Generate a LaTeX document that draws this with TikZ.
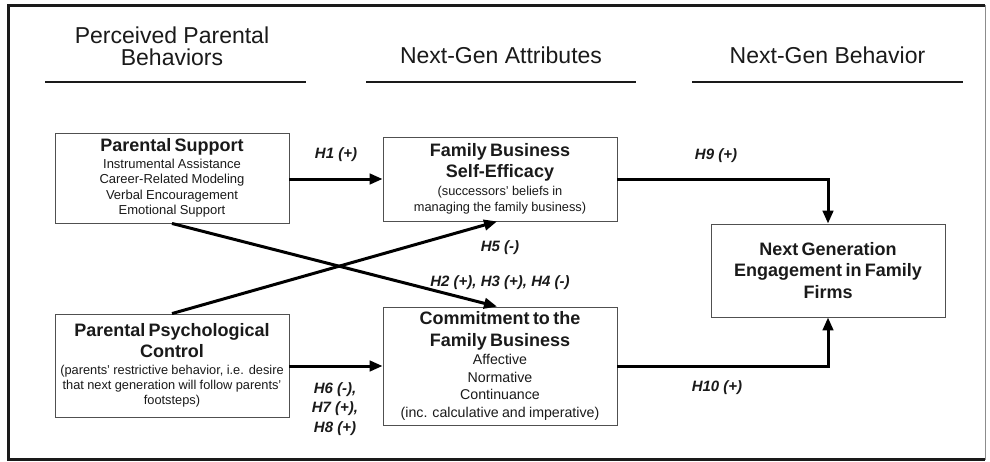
\documentclass[tikz,border=0pt]{standalone}
\usepackage{fontspec}
\setmainfont{Liberation Sans}
\usetikzlibrary{arrows.meta,calc}
\definecolor{ink}{HTML}{1A1A1A}
\definecolor{edgegray}{HTML}{505050}
\newcommand{\ttlfont}{\fontsize{18}{21.5}\selectfont\bfseries}
\begin{document}
\begin{tikzpicture}[x=1pt,y=-1pt,
  box/.style={draw=edgegray, line width=0.9pt, minimum width=234pt, text width=230pt,
    align=center, inner sep=0pt, text=ink},
  arr/.style={line width=3pt, -{Triangle[length=13pt,width=10.5pt]}},
  elbowarr/.style={line width=3pt, -{Triangle[length=13pt,width=10.5pt]}, line join=miter},
  hyp/.style={font=\fontsize{15}{19.5}\selectfont\bfseries\itshape, text=ink, align=center, inner sep=0pt},
  hdr/.style={font=\fontsize{23}{22}\selectfont, text=ink, align=center, inner sep=0pt},
  rulel/.style={line width=2.8pt, ink}]
\useasboundingbox (0,0) rectangle (990,461);
\fill[white] (0,0) rectangle (990,461);
% outer frame
\draw[line width=3pt, ink] (985,5) -- (8,5) -- (8,459.5) -- (985,459.5);
\draw[line width=1pt, black!45] (985,5) -- (985,459.5);
% headers
\node[hdr] (hA) at (172,46.5) {Perceived Parental\\Behaviors};
\node[hdr, anchor=base] (hB) at (501,63) {Next-Gen Attributes};
\node[hdr, anchor=base] (hC) at (827.5,63) {Next-Gen Behavior};
\draw[rulel] (45,82) -- (306,82);
\draw[rulel] (366,82) -- (636,82);
\draw[rulel] (692,82) -- (963,82);
% boxes
\node[box, minimum height=90pt] (ps) at (172,178)
  {{\ttlfont Parental Support\par}\vspace{1.5pt}%
   {\fontsize{13}{15.5}\selectfont Instrumental Assistance\\Career-Related Modeling\\Verbal Encouragement\\Emotional Support\par}};
\node[box, minimum height=103pt] (ppc) at (172,365.5)
  {{\ttlfont Parental Psychological\\Control\par}\vspace{2pt}%
   {\fontsize{12.8}{15}\selectfont (parents' restrictive behavior, i.e. desire\\that next generation will follow parents'\\footsteps)\par}};
\node[box, minimum height=84pt] (fbse) at (500,179)
  {{\ttlfont Family Business\\Self-Efficacy\par}\vspace{1pt}%
   {\fontsize{12.8}{16.5}\selectfont (successors' beliefs in\\managing the family business)\par}};
\node[box, minimum height=118pt] (com) at (500,366)
  {{\ttlfont Commitment to the\\Family Business\par}\vspace{1pt}%
   {\fontsize{14.2}{17.5}\selectfont Affective\\Normative\\Continuance\\(inc. calculative and imperative)\par}};
\node[box, minimum height=93pt] (nge) at (828,270.5)
  {{\fontsize{18}{21.5}\selectfont\bfseries Next Generation\\Engagement in Family\\Firms\par}};
% connectors
\draw[arr] (ps.east |- 0,179) -- (fbse.west |- 0,179);
\draw[arr] (ppc.east |- com.west) -- (com.west);
\draw[arr] (ps.south) -- ($(com.north)+(-3,0)$);
\draw[arr] (ppc.north) -- ($(fbse.south)+(-3,0)$);
\draw[elbowarr] (fbse.east) -- (nge.north |- fbse.east) -- (nge.north);
\draw[elbowarr] (com.east) -- (nge.south |- com.east) -- (nge.south);
% hypothesis labels
\node[hyp] (l1) at (336,155) {H1 (+)};
\node[hyp] (l9) at (716,156) {H9 (+)};
\node[hyp] (l10) at (717,388) {H10 (+)};
\node[hyp] (l5) at (500,248) {H5 (-)};
\node[hyp] (l2) at (500,283) {H2 (+), H3 (+), H4 (-)};
\node[hyp] (l6) at (335,409) {H6 (-),\\H7 (+),\\H8 (+)};
\end{tikzpicture}
\end{document}
